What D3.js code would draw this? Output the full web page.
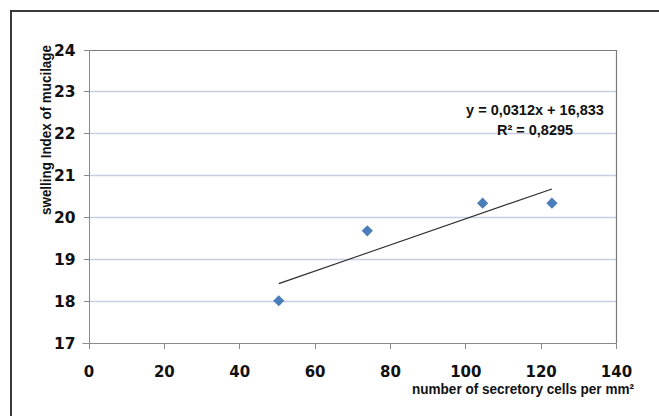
<!DOCTYPE html>
<html><head><meta charset="utf-8">
<script src="https://cdn.jsdelivr.net/npm/d3@7"></script>
<style>body{margin:0;background:#fff} svg{display:block}</style>
</head><body><svg id="c" width="659" height="416"></svg>
<script>
const xValues = [50.5, 74, 104.6, 123];
const yValues = [18, 19.67, 20.33, 20.33];
const xTicks = [0, 20, 40, 60, 80, 100, 120, 140];
const yTicks = [17, 18, 19, 20, 21, 22, 23, 24];
const trendCoefficients = [0.0312, 16.833];
const equationLines = ["y = 0,0312x + 16,833", "R² = 0,8295"];
const axisTitles = ["number of secretory cells per mm²", "swelling Index of mucilage"];

const svg = d3.select("#c");
const W = 659, H = 416;
const L = 88.5, R = 616, T = 49.5, B = 342.6;
const x = d3.scaleLinear().domain([0, 140]).range([L, R]);
const y = d3.scaleLinear().domain([17, 24]).range([B, T]);
const sans = "'Liberation Sans',Arial,sans-serif";

svg.append("rect").attr("width", W).attr("height", H).attr("fill", "#fff");
// outer frame (cropped: only top and left visible)
svg.append("path").attr("d", `M11,${H} V11 H${W}`).attr("fill", "none")
  .attr("stroke", "#3a3a3a").attr("stroke-width", 2);

// gridlines
svg.append("g").selectAll("line").data(yTicks.filter(v => v > 17 && v < 24)).join("line")
  .attr("x1", L).attr("x2", R)
  .attr("y1", d => Math.round(y(d)) + 0.5).attr("y2", d => Math.round(y(d)) + 0.5)
  .attr("stroke", "#c6cee3").attr("stroke-width", 1.3);

// plot border top & right
const tY = Math.round(T) + 0.5, rX = Math.round(R) + 0.5, bY = Math.round(B) + 0.5, lX = Math.round(L) + 0.5;
svg.append("path").attr("d", `M${lX},${tY} H${rX} V${bY}`).attr("fill", "none")
  .attr("stroke", "#7a7a7a").attr("stroke-width", 1.2);

// axes
const xAxis = d3.axisBottom(x).tickValues(xTicks).tickSize(5).tickFormat(d3.format("d"));
const gx = svg.append("g").attr("transform", `translate(0,${bY})`).call(xAxis);
gx.select(".domain").attr("d", `M${lX - 7},0 H${rX}`).attr("stroke", "#8a8a8a");
gx.selectAll(".tick line").attr("stroke", "#8a8a8a");
gx.selectAll(".tick text").attr("y", 33).attr("dy", 0)
  .attr("font-family", "'DejaVu Sans',Verdana,sans-serif").attr("font-weight", "bold")
  .attr("font-size", 15).attr("fill", "#111");

const yAxis = d3.axisLeft(y).tickValues(yTicks).tickSize(6).tickFormat(d3.format("d"));
const gy = svg.append("g").attr("transform", `translate(${lX},0)`).call(yAxis);
gy.select(".domain").attr("d", `M0,${tY} V${bY + 4}`).attr("stroke", "#8a8a8a");
gy.selectAll(".tick line").attr("stroke", "#8a8a8a");
gy.selectAll(".tick text").attr("x", -14).attr("dy", "0.36em")
  .attr("font-family", "'DejaVu Sans',Verdana,sans-serif").attr("font-weight", "bold")
  .attr("font-size", 15.5).attr("fill", "#111");
svg.selectAll(".tick line").attr("shape-rendering", "crispEdges");

// trendline
const tx = d3.extent(xValues);
svg.append("line")
  .attr("x1", x(tx[0])).attr("y1", y(trendCoefficients[0] * tx[0] + trendCoefficients[1]))
  .attr("x2", x(tx[1])).attr("y2", y(trendCoefficients[0] * tx[1] + trendCoefficients[1]))
  .attr("stroke", "#2b2b2b").attr("stroke-width", 1.1);

// markers (diamonds)
const s = 5.6;
svg.append("g").selectAll("path").data(xValues.map((v, i) => [v, yValues[i]])).join("path")
  .attr("d", d => `M${x(d[0])},${y(d[1]) - s} L${x(d[0]) + s},${y(d[1])} L${x(d[0])},${y(d[1]) + s} L${x(d[0]) - s},${y(d[1])} Z`)
  .attr("fill", "#4a7ebb");

// equation
svg.append("g").selectAll("text").data(equationLines).join("text")
  .attr("x", 535).attr("y", (d, i) => 115 + i * 19.5)
  .attr("text-anchor", "middle")
  .attr("font-family", sans).attr("font-weight", "bold")
  .attr("font-size", 14.5).attr("fill", "#111").text(d => d);

// axis titles (narrow, condensed)
svg.append("text").attr("x", 634).attr("y", 393.5).attr("text-anchor", "end")
  .attr("font-family", sans).attr("font-weight", "bold").attr("font-size", 14)
  .attr("textLength", 222).attr("lengthAdjust", "spacingAndGlyphs")
  .attr("fill", "#111").text(axisTitles[0]);
svg.append("text").attr("transform", "translate(50.5,130) rotate(-90)").attr("text-anchor", "middle")
  .attr("font-family", sans).attr("font-weight", "bold").attr("font-size", 14.5)
  .attr("textLength", 170).attr("lengthAdjust", "spacingAndGlyphs")
  .attr("fill", "#111").text(axisTitles[1]);
</script></body></html>
